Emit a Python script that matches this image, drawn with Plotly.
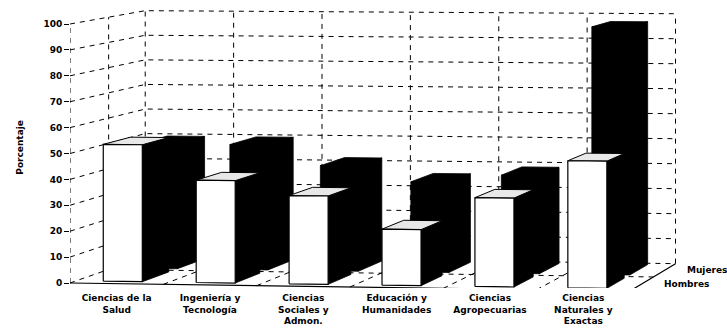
import plotly.graph_objects as go

# ---------------- data ----------------
categories = [
    "Ciencias de la<br>Salud",
    "Ingeniería y<br>Tecnología",
    "Ciencias<br>Sociales y<br>Admon.",
    "Educación y<br>Humanidades",
    "Ciencias<br>Agropecuarias",
    "Ciencias<br>Naturales y<br>Exactas",
]
series_names = ["Hombres", "Mujeres"]
hombres = [53.0, 39.5, 34.0, 21.5, 34.0, 48.5]
mujeres = [49.5, 49.5, 41.5, 35.5, 38.5, 97.0]
y_ticks = [0, 10, 20, 30, 40, 50, 60, 70, 80, 90, 100]
y_title = "Porcentaje"

# ---------------- 3-D look (camera) ----------------
VP_C, VP_V = 15.2, 200.0        # vanishing point in data units
PERSP = 0.056                   # perspective strength along depth
SKEW_A, SKEW_B = 0.515, 0.00294 # slight tilt of the scanned view
BAR_W = 0.42
ROWS = [(0.08, 0.44), (0.56, 0.95)]
N = len(categories)


def proj(c, v, z):
    s = 1.0 / (1.0 + PERSP * z)
    cc = VP_C + s * (c - VP_C)
    vv = VP_V + s * (v - VP_V)
    vv -= cc * (SKEW_A - SKEW_B * vv)
    return cc, vv


def to_xy(polys, close=False):
    xs, ys = [], []
    for p in polys:
        pts = list(p) + ([p[0]] if close else [])
        for (a, b) in pts:
            xs.append(a)
            ys.append(b)
        xs.append(None)
        ys.append(None)
    return xs, ys


fig = go.Figure()

# walls / floor grid (dashed)
dashed = []
for t in y_ticks:
    dashed.append([proj(0, t, 0), proj(0, t, 1), proj(N, t, 1)])
for i in range(N + 1):
    dashed.append([proj(i, 0, 1), proj(i, 100, 1)])
for i in range(1, N):
    dashed.append([proj(i, 0, 0), proj(i, 0, 1)])
dashed.append([proj(0, 0, 0.5), proj(0, 100, 0.5)])
dashed.append([proj(0, 0, 0), proj(0, 100, 0)])
dashed.append([proj(0, 0, 0.5), proj(N, 0, 0.5)])
x, y = to_xy(dashed)
fig.add_trace(go.Scatter(x=x, y=y, mode="lines", hoverinfo="skip",
                         line=dict(color="black", width=1, dash="5px,5px")))

solid = [[proj(0, 0, 0), proj(N, 0, 0), proj(N, 0, 1)]]
x, y = to_xy(solid)
fig.add_trace(go.Scatter(x=x, y=y, mode="lines", hoverinfo="skip",
                         line=dict(color="black", width=1.2)))


def faces(ci, h, z1, z2):
    cl = ci + 0.5 - BAR_W / 2
    cr = ci + 0.5 + BAR_W / 2
    front = [proj(cl, 0, z1), proj(cr, 0, z1), proj(cr, h, z1), proj(cl, h, z1)]
    side = [proj(cr, 0, z1), proj(cr, 0, z2), proj(cr, h, z2), proj(cr, h, z1)]
    top = [proj(cl, h, z1), proj(cr, h, z1), proj(cr, h, z2), proj(cl, h, z2)]
    return front, side, top


# back row: Mujeres (black)
polys = []
for i, h in enumerate(mujeres):
    f, s, t = faces(i, h, *ROWS[1])
    polys += [s, t, f]
x, y = to_xy(polys, close=True)
fig.add_trace(go.Scatter(x=x, y=y, mode="lines", fill="toself", fillcolor="black",
                         hoverinfo="skip", name=series_names[1],
                         line=dict(color="black", width=0.8)))

# front row: Hombres (white with dark side)
sides, tops, fronts = [], [], []
for i, h in enumerate(hombres):
    f, s, t = faces(i, h, *ROWS[0])
    sides.append(s)
    tops.append(t)
    fronts.append(f)
x, y = to_xy(sides, close=True)
fig.add_trace(go.Scatter(x=x, y=y, mode="lines", fill="toself", fillcolor="black",
                         hoverinfo="skip", line=dict(color="black", width=0.8)))
x, y = to_xy(tops, close=True)
fig.add_trace(go.Scatter(x=x, y=y, mode="lines", fill="toself", fillcolor="#e8e8e8",
                         hoverinfo="skip", line=dict(color="black", width=1)))
x, y = to_xy(fronts, close=True)
fig.add_trace(go.Scatter(x=x, y=y, mode="lines", fill="toself", fillcolor="white",
                         hoverinfo="skip", name=series_names[0],
                         line=dict(color="black", width=1.2)))

font_b = dict(family="DejaVu Sans", size=9, color="black", weight="bold")

# depth axis labels
for k, name in enumerate(series_names):
    zc = 0.5 * (ROWS[k][0] + ROWS[k][1])
    px, py = proj(N, 0, zc)
    fig.add_annotation(x=px, y=py, text=name, showarrow=False, xanchor="left",
                       yanchor="middle", xshift=20, font=font_b)

fig.add_annotation(x=-0.087, y=0.49, xref="paper", yref="paper", text=y_title,
                   textangle=-90, showarrow=False, font=font_b)

fig.update_layout(
    width=727, height=328,
    margin=dict(l=70, r=0, t=0, b=40),
    paper_bgcolor="white", plot_bgcolor="white",
    showlegend=False,
    xaxis=dict(range=[0, 657 / 93.33], tickvals=[i + 0.5 for i in range(N)],
               ticktext=categories, showgrid=False, zeroline=False, showline=False,
               ticks="", ticklabelstandoff=3, tickfont=font_b, fixedrange=True),
    yaxis=dict(range=[(283 - 288) / 2.59, 283 / 2.59], tickvals=y_ticks,
               showgrid=False, zeroline=False, showline=False, ticks="outside",
               ticklen=5, tickcolor="black", tickfont=font_b, fixedrange=True),
)

fig.write_html("out.html")
